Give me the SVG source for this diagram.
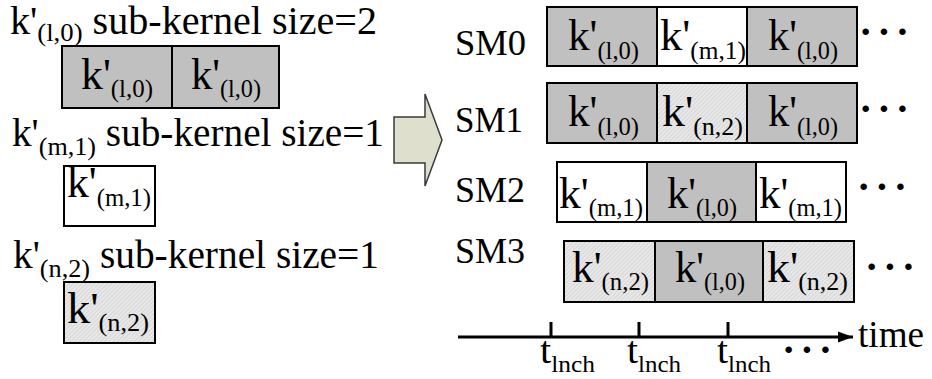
<svg xmlns="http://www.w3.org/2000/svg" width="932" height="379" viewBox="0 0 932 379">
<defs>
<pattern id="hatch" patternUnits="userSpaceOnUse" width="3" height="3" patternTransform="rotate(45)">
<rect width="3" height="3" fill="#e8e8e8"/>
<line x1="0.5" y1="0" x2="0.5" y2="3" stroke="#d6d6d6" stroke-width="1"/>
</pattern>
<marker id="ah" markerWidth="16" markerHeight="12" refX="15" refY="6" orient="auto" markerUnits="userSpaceOnUse">
<path d="M0,0.5 L15,6 L0,11.5 Z" fill="#000"/>
</marker>
</defs>
<style>
text{font-family:"Liberation Serif","Times New Roman",serif;fill:#000}
.c{stroke:#000;stroke-width:2}
.g{fill:#c0c0c0}
.w{fill:#fff}
.h{fill:url(#hatch)}
.ttl{font-size:39px}
.ts{font-size:26px}
.rl{font-size:44px}
.rs{font-size:25px}
.sm{font-size:36px}
.dots{font-size:40px;letter-spacing:5px;font-weight:bold}
.tm{font-size:38px}
.tl{font-size:38px}
.tls{font-size:24px}
</style>

<g id="kernel-l0">
<text class="ttl" x="10" y="34" textLength="367" lengthAdjust="spacingAndGlyphs">k'<tspan class="ts" dy="7">(l,0)</tspan><tspan dy="-7"> sub-kernel size=2</tspan></text>
<rect class="c g" x="62" y="46" width="110" height="62"/>
<rect class="c g" x="172" y="46" width="107" height="62"/>
<text class="rl" x="81" y="89" textLength="72" lengthAdjust="spacingAndGlyphs">k'<tspan class="rs" dy="8">(l,0)</tspan></text>
<text class="rl" x="191" y="89" textLength="70" lengthAdjust="spacingAndGlyphs">k'<tspan class="rs" dy="8">(l,0)</tspan></text>
</g>

<g id="kernel-m1">
<text class="ttl" x="12" y="146" textLength="372" lengthAdjust="spacingAndGlyphs">k'<tspan class="ts" dy="9">(m,1)</tspan><tspan dy="-9"> sub-kernel size=1</tspan></text>
<rect class="c w" x="64" y="166" width="91" height="60"/>
<text class="rl" x="67" y="197" textLength="84" lengthAdjust="spacingAndGlyphs">k'<tspan class="rs" dy="9">(m,1)</tspan></text>
</g>

<g id="kernel-n2">
<text class="ttl" x="13" y="268" textLength="366" lengthAdjust="spacingAndGlyphs">k'<tspan class="ts" dy="9">(n,2)</tspan><tspan dy="-9"> sub-kernel size=1</tspan></text>
<rect class="c h" x="64" y="282" width="91" height="61"/>
<text class="rl" x="67" y="323" textLength="82" lengthAdjust="spacingAndGlyphs">k'<tspan class="rs" dy="8">(n,2)</tspan></text>
</g>

<g id="sm0">
<text class="sm" x="455" y="55" textLength="71" lengthAdjust="spacingAndGlyphs">SM0</text>
<rect class="c g" x="547" y="7" width="110" height="59"/>
<rect class="c w" x="657" y="7" width="90" height="59"/>
<rect class="c g" x="747" y="7" width="110" height="59"/>
<text class="rl" x="568" y="50" textLength="71" lengthAdjust="spacingAndGlyphs">k'<tspan class="rs" dy="9">(l,0)</tspan></text>
<text class="rl" x="660" y="50" textLength="86" lengthAdjust="spacingAndGlyphs">k'<tspan class="rs" dy="9">(m,1)</tspan></text>
<text class="rl" x="768" y="50" textLength="70" lengthAdjust="spacingAndGlyphs">k'<tspan class="rs" dy="9">(l,0)</tspan></text>
<text class="dots" x="859" y="45">···</text>
</g>

<g id="sm1">
<text class="sm" x="455" y="132" textLength="68" lengthAdjust="spacingAndGlyphs">SM1</text>
<rect class="c g" x="547" y="83" width="110" height="60"/>
<rect class="c h" x="657" y="83" width="90" height="60"/>
<rect class="c g" x="747" y="83" width="110" height="60"/>
<text class="rl" x="568" y="126" textLength="71" lengthAdjust="spacingAndGlyphs">k'<tspan class="rs" dy="9">(l,0)</tspan></text>
<text class="rl" x="662" y="126" textLength="81" lengthAdjust="spacingAndGlyphs">k'<tspan class="rs" dy="9">(n,2)</tspan></text>
<text class="rl" x="768" y="126" textLength="70" lengthAdjust="spacingAndGlyphs">k'<tspan class="rs" dy="9">(l,0)</tspan></text>
<text class="dots" x="859" y="122">···</text>
</g>

<g id="sm2">
<text class="sm" x="455" y="202" textLength="70" lengthAdjust="spacingAndGlyphs">SM2</text>
<rect class="c w" x="557" y="162" width="90" height="60"/>
<rect class="c g" x="647" y="162" width="109" height="60"/>
<rect class="c w" x="756" y="162" width="90" height="60"/>
<text class="rl" x="559" y="208" textLength="84" lengthAdjust="spacingAndGlyphs">k'<tspan class="rs" dy="8">(m,1)</tspan></text>
<text class="rl" x="667" y="208" textLength="70" lengthAdjust="spacingAndGlyphs">k'<tspan class="rs" dy="8">(l,0)</tspan></text>
<text class="rl" x="759" y="208" textLength="83" lengthAdjust="spacingAndGlyphs">k'<tspan class="rs" dy="8">(m,1)</tspan></text>
<text class="dots" x="857" y="200">···</text>
</g>

<g id="sm3">
<text class="sm" x="455" y="263" textLength="70" lengthAdjust="spacingAndGlyphs">SM3</text>
<rect class="c h" x="564" y="241" width="91" height="61"/>
<rect class="c g" x="655" y="241" width="108" height="61"/>
<rect class="c h" x="763" y="241" width="91" height="61"/>
<text class="rl" x="572" y="282" textLength="77" lengthAdjust="spacingAndGlyphs">k'<tspan class="rs" dy="8">(n,2)</tspan></text>
<text class="rl" x="675" y="282" textLength="70" lengthAdjust="spacingAndGlyphs">k'<tspan class="rs" dy="8">(l,0)</tspan></text>
<text class="rl" x="767" y="282" textLength="81" lengthAdjust="spacingAndGlyphs">k'<tspan class="rs" dy="8">(n,2)</tspan></text>
<text class="dots" x="865" y="280">···</text>
</g>

<g id="timeline">
<text class="tm" x="858" y="347" textLength="66" lengthAdjust="spacingAndGlyphs">time</text>
<text class="tl" x="540" y="363" textLength="55" lengthAdjust="spacingAndGlyphs">t<tspan class="tls" dy="9">lnch</tspan></text>
<text class="tl" x="627" y="363" textLength="54" lengthAdjust="spacingAndGlyphs">t<tspan class="tls" dy="9">lnch</tspan></text>
<text class="tl" x="717" y="363" textLength="54" lengthAdjust="spacingAndGlyphs">t<tspan class="tls" dy="9">lnch</tspan></text>
<text class="dots" x="782" y="363">···</text>
</g>

<g id="connectors">
<path d="M394,117 H425 V94 L442,140 L425,186 V163 H394 Z" fill="#dee0cd" stroke="#3a3a3a" stroke-width="1.5"/>
<line x1="458" y1="337" x2="853" y2="337" stroke="#000" stroke-width="3" marker-end="url(#ah)"/>
<line x1="551" y1="322" x2="551" y2="337" stroke="#000" stroke-width="3"/>
<line x1="639" y1="322" x2="639" y2="337" stroke="#000" stroke-width="3"/>
<line x1="728" y1="322" x2="728" y2="337" stroke="#000" stroke-width="3"/>
</g>
</svg>
